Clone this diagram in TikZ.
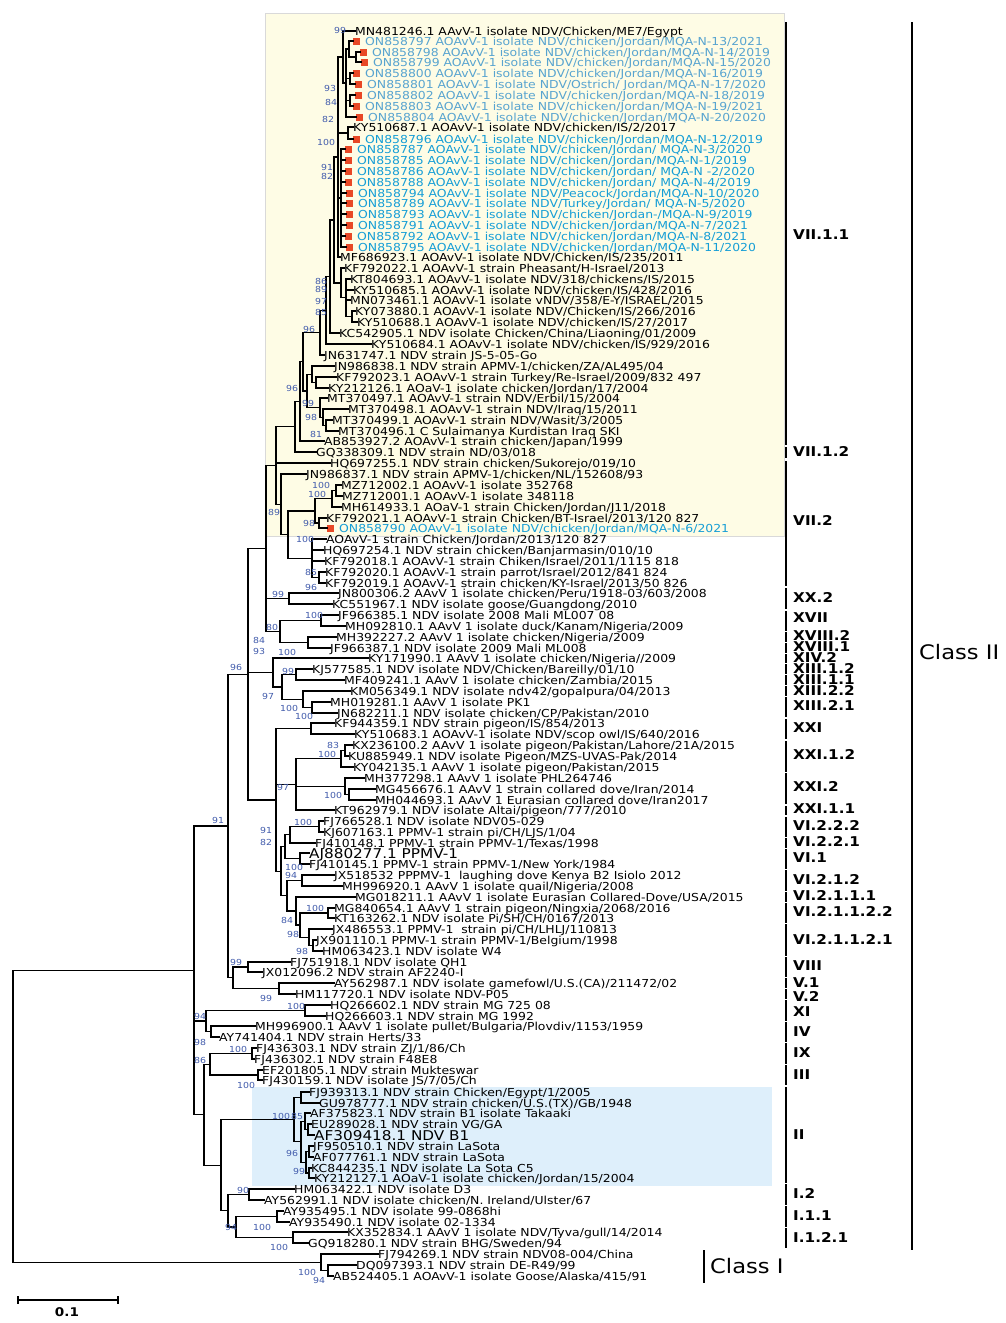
\documentclass[tikz,border=0pt]{standalone}
\usepackage{fontspec}
\setmainfont{DejaVu Sans}[FakeStretch=1.13]
\usetikzlibrary{calc}
\definecolor{yelbg}{RGB}{254,252,229}
\definecolor{bluebg}{RGB}{222,239,251}
\definecolor{blueA}{RGB}{88,164,208}
\definecolor{blueB}{RGB}{22,158,214}
\definecolor{sqred}{RGB}{232,72,38}
\definecolor{bsblue}{RGB}{66,92,172}
\tikzset{
  br/.style={line width=1.3pt, black, line cap=rect},
  lf/.style={anchor=west, inner sep=0pt, text height=8pt, text depth=0pt, font=\fontsize{11}{11}\selectfont},
  lfbig/.style={lf, text height=10pt, font=\fontsize{13.5}{13.5}\selectfont},
  bs/.style={anchor=west, inner sep=0pt, text=bsblue, text height=6pt, text depth=0pt, font=\fontsize{8.3}{8.3}\selectfont},
  clade/.style={anchor=west, inner sep=0pt, text height=9pt, text depth=0pt, font=\bfseries\fontsize{13.5}{13.5}\selectfont},
  cbar/.style={line width=1.3pt, black},
}
\newcommand\sqmark{\textcolor{sqred}{\rule{7pt}{7pt}}\hspace{5pt}}
\newcommand\Lk[4]{\node[lf] (L#1) at (#2,#3) {#4}; \coordinate (l#1) at (L#1.west);}
\newcommand\Lg[4]{\node[lfbig] (L#1) at (#2,#3) {#4}; \coordinate (l#1) at (L#1.west);}
\newcommand\La[4]{\node[lf,text=blueA] (L#1) at (#2,#3) {\sqmark#4}; \coordinate (l#1) at (L#1.west);}
\newcommand\Lb[4]{\node[lf,text=blueB] (L#1) at (#2,#3) {\sqmark#4}; \coordinate (l#1) at (L#1.west);}
\newcommand\mknode[4]{%
  \coordinate (tmp) at ($(#3)!0.5!(#4)$);
  \coordinate (#1) at (#2,0 |- tmp);
  \draw[br] (#3) -| (#1) |- (#4);}
\newcommand\mknodem[5]{\mknode{#1}{#2}{#3}{#4}\foreach \cc in {#5} {\draw[br] (#1) |- (\cc);}}
\begin{document}
\begin{tikzpicture}[x=1pt,y=-1pt]
\path[use as bounding box] (0,0) rectangle (1005,1323);
\fill[white] (0,0) rectangle (1005,1323);
\fill[yelbg, draw=black!15] (265,13) rectangle (784,536);
\fill[bluebg] (252,1087) rectangle (772,1186);
% leaves
\Lk{1}{355}{31}{MN481246.1 AAvV-1 isolate NDV/Chicken/ME7/Egypt}
\La{2}{353}{41}{ON858797 AOAvV-1 isolate NDV/chicken/Jordan/MQA-N-13/2021}
\La{3}{360}{52}{ON858798 AOAvV-1 isolate NDV/chicken/Jordan/MQA-N-14/2019}
\La{4}{361}{62}{ON858799 AOAvV-1 isolate NDV/chicken/Jordan/MQA-N-15/2020}
\La{5}{353}{73}{ON858800 AOAvV-1 isolate NDV/chicken/Jordan/MQA-N-16/2019}
\La{6}{355}{84}{ON858801 AOAvV-1 isolate NDV/Ostrich/ Jordan/MQA-N-17/2020}
\La{7}{355}{95}{ON858802 AOAvV-1 isolate NDV/chicken/Jordan/MQA-N-18/2019}
\La{8}{353}{106}{ON858803 AOAvV-1 isolate NDV/chicken/Jordan/MQA-N-19/2021}
\La{9}{356}{117}{ON858804 AOAvV-1 isolate NDV/chicken/Jordan/MQA-N-20/2020}
\Lk{10}{353}{127}{KY510687.1 AOAvV-1 isolate NDV/chicken/IS/2/2017}
\Lb{11}{353}{139}{ON858796 AOAvV-1 isolate NDV/chicken/Jordan/MQA-N-12/2019}
\Lb{12}{345}{149}{ON858787 AOAvV-1 isolate NDV/chicken/Jordan/ MQA-N-3/2020}
\Lb{13}{345}{160}{ON858785 AOAvV-1 isolate NDV/chicken/Jordan/MQA-N-1/2019}
\Lb{14}{345}{171}{ON858786 AOAvV-1 isolate NDV/chicken/Jordan/ MQA-N -2/2020}
\Lb{15}{345}{182}{ON858788 AOAvV-1 isolate NDV/chicken/Jordan/ MQA-N-4/2019}
\Lb{16}{346}{193}{ON858794 AOAvV-1 isolate NDV/Peacock/Jordan/MQA-N-10/2020}
\Lb{17}{346}{203}{ON858789 AOAvV-1 isolate NDV/Turkey/Jordan/ MQA-N-5/2020}
\Lb{18}{346}{214}{ON858793 AOAvV-1 isolate NDV/chicken/Jordan-/MQA-N-9/2019}
\Lb{19}{346}{225}{ON858791 AOAvV-1 isolate NDV/chicken/Jordan/MQA-N-7/2021}
\Lb{20}{345}{236}{ON858792 AOAvV-1 isolate NDV/chicken/Jordan/MQA-N-8/2021}
\Lb{21}{346}{247}{ON858795 AOAvV-1 isolate NDV/chicken/Jordan/MQA-N-11/2020}
\Lk{22}{340}{257}{MF686923.1 AOAvV-1 isolate NDV/Chicken/IS/235/2011}
\Lk{23}{344}{268}{KF792022.1 AOAvV-1 strain Pheasant/H-Israel/2013}
\Lk{24}{350}{279}{KT804693.1 AOAvV-1 isolate NDV/318/chickens/IS/2015}
\Lk{25}{353}{290}{KY510685.1 AOAvV-1 isolate NDV/chicken/IS/428/2016}
\Lk{26}{350}{300}{MN073461.1 AOAvV-1 isolate vNDV/358/E-Y/ISRAEL/2015}
\Lk{27}{355}{311}{KY073880.1 AOAvV-1 isolate NDV/Chicken/IS/266/2016}
\Lk{28}{357}{322}{KY510688.1 AOAvV-1 isolate NDV/chicken/IS/27/2017}
\Lk{29}{339}{333}{KC542905.1 NDV isolate Chicken/China/Liaoning/01/2009}
\Lk{30}{371}{344}{KY510684.1 AOAvV-1 isolate NDV/chicken/IS/929/2016}
\Lk{31}{324}{355}{JN631747.1 NDV strain JS-5-05-Go}
\Lk{32}{334}{366}{JN986838.1 NDV strain APMV-1/chicken/ZA/AL495/04}
\Lk{33}{336}{377}{KF792023.1 AOAvV-1 strain Turkey/Re-Israel/2009/832 497}
\Lk{34}{328}{388}{KY212126.1 AOaV-1 isolate chicken/Jordan/17/2004}
\Lk{35}{327}{398}{MT370497.1 AOAvV-1 strain NDV/Erbil/15/2004}
\Lk{36}{348}{409}{MT370498.1 AOAvV-1 strain NDV/Iraq/15/2011}
\Lk{37}{332}{420}{MT370499.1 AOAvV-1 strain NDV/Wasit/3/2005}
\Lk{38}{338}{431}{MT370496.1 C Sulaimanya Kurdistan Iraq SKI}
\Lk{39}{324}{441}{AB853927.2 AOAvV-1 strain chicken/Japan/1999}
\Lk{40}{316}{452}{GQ338309.1 NDV strain ND/03/018}
\Lk{41}{330}{463}{HQ697255.1 NDV strain chicken/Sukorejo/019/10}
\Lk{42}{306}{474}{JN986837.1 NDV strain APMV-1/chicken/NL/152608/93}
\Lk{43}{341}{485}{MZ712002.1 AOAvV-1 isolate 352768}
\Lk{44}{342}{496}{MZ712001.1 AOAvV-1 isolate 348118}
\Lk{45}{341}{507}{MH614933.1 AOaV-1 strain Chicken/Jordan/J11/2018}
\Lk{46}{326}{518}{KF792021.1 AOAvV-1 strain Chicken/BT-Israel/2013/120 827}
\Lb{47}{327}{528}{ON858790 AOAvV-1 isolate NDV/chicken/Jordan/MQA-N-6/2021}
\Lk{48}{326}{539}{AOAvV-1 strain Chicken/Jordan/2013/120 827}
\Lk{49}{323}{550}{HQ697254.1 NDV strain chicken/Banjarmasin/010/10}
\Lk{50}{324}{561}{KF792018.1 AOAvV-1 strain Chiken/Israel/2011/1115 818}
\Lk{51}{325}{572}{KF792020.1 AOAvV-1 strain parrot/Israel/2012/841 824}
\Lk{52}{325}{583}{KF792019.1 AOAvV-1 strain chicken/KY-Israel/2013/50 826}
\Lk{53}{338}{593}{JN800306.2 AAvV 1 isolate chicken/Peru/1918-03/603/2008}
\Lk{54}{332}{604}{KC551967.1 NDV isolate goose/Guangdong/2010}
\Lk{55}{338}{615}{JF966385.1 NDV isolate 2008 Mali ML007 08}
\Lk{56}{345}{626}{MH092810.1 AAvV 1 isolate duck/Kanam/Nigeria/2009}
\Lk{57}{336}{637}{MH392227.2 AAvV 1 isolate chicken/Nigeria/2009}
\Lk{58}{330}{648}{JF966387.1 NDV isolate 2009 Mali ML008}
\Lk{59}{368}{658}{KY171990.1 AAvV 1 isolate chicken/Nigeria//2009}
\Lk{60}{312}{669}{KJ577585.1 NDV isolate NDV/Chicken/Bareilly/01/10}
\Lk{61}{344}{680}{MF409241.1 AAvV 1 isolate chicken/Zambia/2015}
\Lk{62}{350}{691}{KM056349.1 NDV isolate ndv42/gopalpura/04/2013}
\Lk{63}{330}{702}{MH019281.1 AAvV 1 isolate PK1}
\Lk{64}{337}{713}{JN682211.1 NDV isolate chicken/CP/Pakistan/2010}
\Lk{65}{334}{723}{KF944359.1 NDV strain pigeon/IS/854/2013}
\Lk{66}{354}{734}{KY510683.1 AOAvV-1 isolate NDV/scop owl/IS/640/2016}
\Lk{67}{352}{745}{KX236100.2 AAvV 1 isolate pigeon/Pakistan/Lahore/21A/2015}
\Lk{68}{348}{756}{KU885949.1 NDV isolate Pigeon/MZS-UVAS-Pak/2014}
\Lk{69}{353}{767}{KY042135.1 AAvV 1 isolate pigeon/Pakistan/2015}
\Lk{70}{364}{778}{MH377298.1 AAvV 1 isolate PHL264746}
\Lk{71}{375}{789}{MG456676.1 AAvV 1 strain collared dove/Iran/2014}
\Lk{72}{375}{800}{MH044693.1 AAvV 1 Eurasian collared dove/Iran2017}
\Lk{73}{334}{810}{KT962979.1 NDV isolate Altai/pigeon/777/2010}
\Lk{74}{323}{821}{FJ766528.1 NDV isolate NDV05-029}
\Lk{75}{323}{832}{KJ607163.1 PPMV-1 strain pi/CH/LJS/1/04}
\Lk{76}{315}{843}{FJ410148.1 PPMV-1 strain PPMV-1/Texas/1998}
\Lg{77}{309}{853}{AJ880277.1 PPMV-1}
\Lk{78}{309}{864}{FJ410145.1 PPMV-1 strain PPMV-1/New York/1984}
\Lk{79}{334}{875}{JX518532 PPPMV-1\ \ laughing dove Kenya B2 Isiolo 2012}
\Lk{80}{342}{886}{MH996920.1 AAvV 1 isolate quail/Nigeria/2008}
\Lk{81}{355}{897}{MG018211.1 AAvV 1 isolate Eurasian Collared-Dove/USA/2015}
\Lk{82}{334}{908}{MG840654.1 AAvV 1 strain pigeon/Ningxia/2068/2016}
\Lk{83}{334}{918}{KT163262.1 NDV isolate Pi/SH/CH/0167/2013}
\Lk{84}{332}{929}{JX486553.1 PPMV-1\ \ strain pi/CH/LHLJ/110813}
\Lk{85}{316}{940}{JX901110.1 PPMV-1 strain PPMV-1/Belgium/1998}
\Lk{86}{322}{951}{HM063423.1 NDV isolate W4}
\Lk{87}{290}{962}{FJ751918.1 NDV isolate QH1}
\Lk{88}{262}{972}{JX012096.2 NDV strain AF2240-I}
\Lk{89}{334}{983}{AY562987.1 NDV isolate gamefowl/U.S.(CA)/211472/02}
\Lk{90}{295}{994}{HM117720.1 NDV isolate NDV-P05}
\Lk{91}{330}{1005}{HQ266602.1 NDV strain MG 725 08}
\Lk{92}{325}{1016}{HQ266603.1 NDV strain MG 1992}
\Lk{93}{255}{1026}{MH996900.1 AAvV 1 isolate pullet/Bulgaria/Plovdiv/1153/1959}
\Lk{94}{219}{1037}{AY741404.1 NDV strain Herts/33}
\Lk{95}{256}{1048}{FJ436303.1 NDV strain ZJ/1/86/Ch}
\Lk{96}{254}{1059}{FJ436302.1 NDV strain F48E8}
\Lk{97}{262}{1070}{EF201805.1 NDV strain Mukteswar}
\Lk{98}{262}{1080}{FJ430159.1 NDV isolate JS/7/05/Ch}
\Lk{99}{309}{1092}{FJ939313.1 NDV strain Chicken/Egypt/1/2005}
\Lk{100}{319}{1103}{GU978777.1 NDV strain chicken/U.S.(TX)/GB/1948}
\Lk{101}{310}{1113}{AF375823.1 NDV strain B1 isolate Takaaki}
\Lk{102}{311}{1124}{EU289028.1 NDV strain VG/GA}
\Lg{103}{314}{1135}{AF309418.1 NDV B1}
\Lk{104}{313}{1146}{JF950510.1 NDV strain LaSota}
\Lk{105}{313}{1157}{AF077761.1 NDV strain LaSota}
\Lk{106}{311}{1168}{KC844235.1 NDV isolate La Sota C5}
\Lk{107}{314}{1178}{KY212127.1 AOaV-1 isolate chicken/Jordan/15/2004}
\Lk{108}{294}{1189}{HM063422.1 NDV isolate D3}
\Lk{109}{264}{1200}{AY562991.1 NDV isolate chicken/N. Ireland/Ulster/67}
\Lk{110}{283}{1211}{AY935495.1 NDV isolate 99-0868hi}
\Lk{111}{289}{1222}{AY935490.1 NDV isolate 02-1334}
\Lk{112}{347}{1232}{KX352834.1 AAvV 1 isolate NDV/Tyva/gull/14/2014}
\Lk{113}{308}{1243}{GQ918280.1 NDV strain BHG/Sweden/94}
\Lk{114}{378}{1254}{FJ794269.1 NDV strain NDV08-004/China}
\Lk{115}{356}{1265}{DQ097393.1 NDV strain DE-R49/99}
\Lk{116}{333}{1276}{AB524405.1 AOAvV-1 isolate Goose/Alaska/415/91}
% internal nodes
\mknode{a1}{356}{l3}{l4}
\mknode{a2}{349}{l2}{a1}
\mknode{a3}{350}{l5}{l6}
\mknode{a4}{350}{l7}{l8}
\mknodem{a5}{346}{a2}{l9}{a3,a4}
\mknode{a6}{343}{l1}{a5}
\mknode{a7}{348}{l10}{l11}
\mknodem{a8}{341}{l12}{l21}{l13,l14,l15,l16,l17,l18,l19,l20}
\mknodem{a9}{338}{a6}{l22}{a7,a8}
\mknode{b1}{352}{l27}{l28}
\mknodem{b2}{346}{l24}{b1}{l25,l26}
\mknode{b3}{341}{l23}{b2}
\mknode{a10}{334}{a9}{b3}
\mknode{a11}{330}{a10}{l29}
\mknode{a12}{326}{a11}{l30}
\mknode{a13}{320}{a12}{l31}
\mknode{c3}{316}{l33}{l34}
\mknode{c4}{312}{l32}{c3}
\mknode{c1a}{326}{l37}{l38}
\mknode{c1}{323}{l36}{c1a}
\mknode{c2}{320}{l35}{c1}
\mknode{c5}{307}{c4}{c2}
\mknode{c6}{303}{a13}{c5}
\mknode{c6b}{300}{c6}{l39}
\mknode{c8}{295}{c6b}{l40}
\mknode{d1}{336}{l43}{l44}
\mknode{d2}{332}{d1}{l45}
\mknode{d3}{319}{l46}{l47}
\mknode{d4}{315}{d2}{d3}
\mknode{e1}{319}{l51}{l52}
\mknodem{e2}{312}{l48}{e1}{l49,l50}
\mknode{v72}{288}{d4}{e2}
\mknode{n89}{281}{l42}{v72}
\mknodem{V7}{276}{c8}{n89}{l41}
\mknode{g1}{289}{l53}{l54}
\mknode{xvii}{321}{l55}{l56}
\mknode{xviii}{308}{l57}{l58}
\mknode{n80}{280}{xvii}{xviii}
\mknodem{U}{266}{V7}{n80}{g1}
\mknode{xiiia}{296}{l60}{l61}
\mknode{xiiib}{312}{l63}{l64}
\mknode{xiiic}{303}{l62}{xiiib}
\mknode{xiii}{282}{xiiia}{xiiic}
\mknode{n93}{273}{l59}{xiii}
\mknode{h1}{311}{l65}{l66}
\mknode{i1}{345}{l67}{l68}
\mknode{i2}{341}{i1}{l69}
\mknode{i3}{349}{l71}{l72}
\mknode{i4}{345}{l70}{i3}
\mknodem{i5}{296}{i2}{l73}{i4}
\mknode{k1}{319}{l74}{l75}
\mknode{k2}{290}{k1}{l76}
\mknode{k3}{300}{l77}{l78}
\mknode{k4}{285}{k2}{k3}
\mknode{k5}{302}{l79}{l80}
\mknode{k7}{328}{l82}{l83}
\mknode{k8a}{313}{l85}{l86}
\mknode{k8}{309}{l84}{k8a}
\mknode{k9}{300}{k7}{k8}
\mknode{k10}{296}{l81}{k9}
\mknode{k11}{287}{k5}{k10}
\mknode{k12}{281}{k4}{k11}
\mknodem{W}{276}{h1}{k12}{i5}
\mknodem{N96}{248}{U}{W}{n93}
\mknode{m1}{248}{l87}{l88}
\mknode{m2}{279}{l89}{l90}
\mknode{VV}{233}{m1}{m2}
\mknode{T}{228}{N96}{VV}
\mknode{p1}{305}{l91}{l92}
\mknode{p2}{211}{l93}{l94}
\mknode{N94}{206}{p1}{p2}
\mknode{q1}{252}{l95}{l96}
\mknode{q2}{258}{l97}{l98}
\mknode{N86}{210}{q1}{q2}
\mknode{r1}{301}{l99}{l100}
\mknode{r2}{308}{l102}{l103}
\mknode{r3}{305}{l101}{r2}
\mknode{r4}{309}{l104}{l105}
\mknode{r5}{309}{l106}{l107}
\mknode{r6}{306}{r4}{r5}
\mknode{r7}{301}{r3}{r6}
\mknode{NII}{294}{r1}{r7}
\mknode{s1}{249}{l108}{l109}
\mknode{s2}{277}{l110}{l111}
\mknode{s3}{293}{l112}{l113}
\mknode{s4}{236}{s2}{s3}
\mknode{G}{228}{s1}{s4}
\mknode{X}{221}{NII}{G}
\mknode{B}{204}{N86}{X}
\mknodem{C2}{194}{T}{B}{N94}
\mknode{C1a}{328}{l115}{l116}
\mknode{C1}{321}{l114}{C1a}
\mknode{R}{13}{C2}{C1}
% bootstrap values
\foreach \bx/\by/\bt [count=\i] in {334/30/99, 324/88/93, 325/102/84, 322/119/82, 317/142/100, 321/167/91, 321/176/82,
  315/281/86, 315/289/89, 315/301/97, 315/312/85, 303/329/96, 286/388/96, 302/403/99, 305/417/98, 310/434/81,
  312/485/100, 308/494/100, 268/512/89, 303/523/98, 296/539/100, 305/572/85, 305/587/96, 272/594/99, 305/615/100,
  266/627/80, 253/640/84, 253/651/93, 278/652/100, 230/667/96, 282/671/99, 262/696/97, 280/708/100, 295/716/100,
  327/745/83, 318/754/100, 277/787/97, 324/795/100, 212/820/91, 294/822/100, 260/830/91, 260/842/82, 285/867/100,
  285/875/94, 306/908/100, 281/920/84, 287/934/98, 296/951/98, 230/962/99, 260/998/99, 287/1006/100, 194/1016/94,
  194/1042/98, 229/1049/100, 194/1060/86, 237/1085/100, 272/1116/100, 291/1116/85, 286/1153/96, 293/1171/99,
  237/1190/90, 225/1227/94, 253/1227/100, 270/1247/100, 298/1272/100, 313/1280/94}
  {\node[bs] (bs\i) at (\bx,\by) {\bt};}
% clade bars
\foreach \ya/\yb in {22/445, 447/458, 461/586, 588/609, 611/631, 632/642, 643/653, 654/663, 664/674, 675/685,
  686/696, 697/717, 719/739, 741/772, 773/804, 806/815, 817/837, 838/848, 849/869, 870/891, 892/902, 903/923,
  924/956, 957/977, 978/988, 989/999, 1000/1021, 1022/1042, 1043/1064, 1065/1085, 1087/1183, 1184/1205,
  1206/1227, 1228/1248}
  {\draw[cbar] (786,\ya) -- (786,\yb);}
% clade labels
\foreach \cy/\ct [count=\i] in {235/VII.1.1, 452/VII.1.2, 521/VII.2, 598/XX.2, 618/XVII, 636/XVIII.2, 647/XVIII.1,
  658/XIV.2, 669/XIII.1.2, 680/XIII.1.1, 691/XIII.2.2, 706/XIII.2.1, 728/XXI, 755/XXI.1.2, 787/XXI.2, 809/XXI.1.1,
  826/VI.2.2.2, 842/VI.2.2.1, 858/VI.1, 880/VI.2.1.2, 896/VI.2.1.1.1, 912/VI.2.1.1.2.2, 940/VI.2.1.1.2.1,
  966/VIII, 983/V.1, 997/V.2, 1012/XI, 1032/IV, 1053/IX, 1075/III, 1135/II, 1194/I.2, 1216/I.1.1, 1238/I.1.2.1}
  {\node[clade] (cl\i) at (793,\cy) {\ct};}
% classes
\draw[line width=1.5pt] (912,22) -- (912,1250);
\node[anchor=west, inner sep=0pt, font=\fontsize{20}{20}\selectfont] (c2lab) at (919,652) {Class II};
\draw[line width=2pt] (704,1250) -- (704,1283);
\node[anchor=west, inner sep=0pt, font=\fontsize{20}{20}\selectfont] (c1lab) at (710,1266) {Class I};
% scale bar
\draw[cbar] (18,1300) -- (118,1300);
\draw[cbar] (18,1296) -- (18,1304);
\draw[cbar] (118,1296) -- (118,1304);
\node[inner sep=0pt, font=\bfseries\fontsize{12}{12}\selectfont] (scl) at (67,1312) {0.1};
\end{tikzpicture}
\end{document}
